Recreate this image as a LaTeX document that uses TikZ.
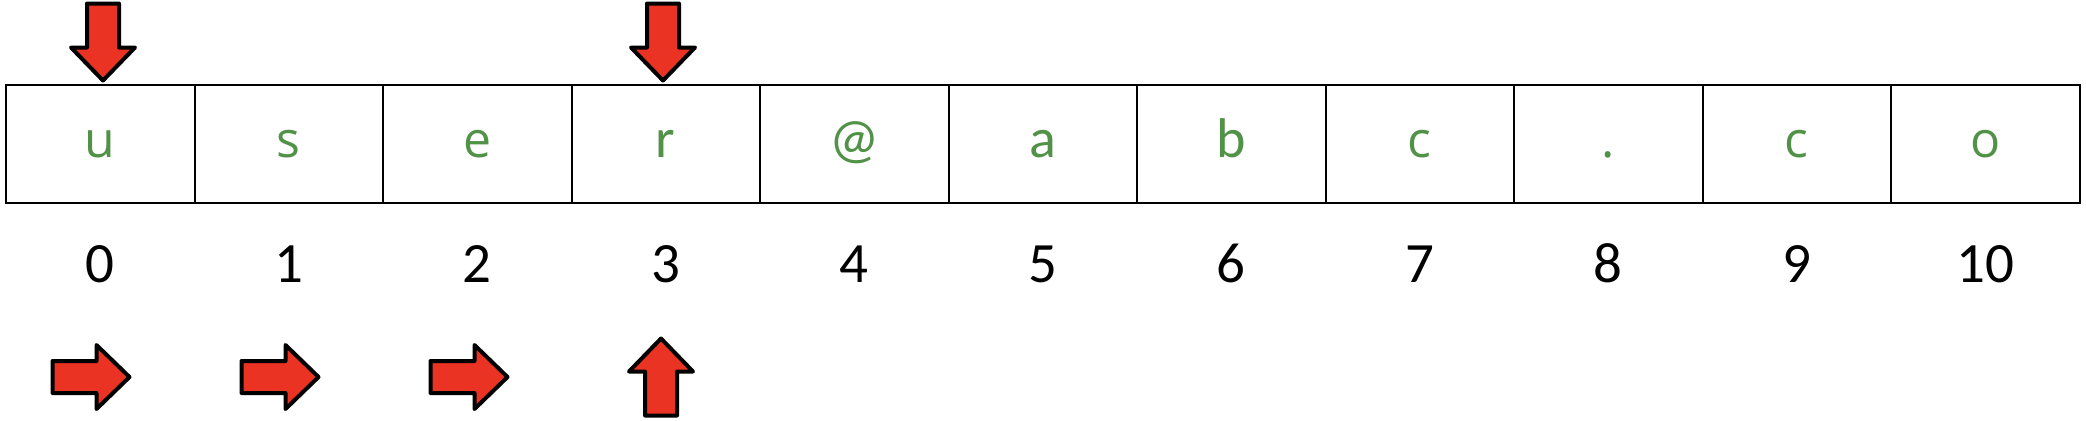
\documentclass[tikz,border=0pt]{standalone}
\usepackage{fontspec}
\setmainfont{Open Sans}
\newfontfamily\calfont{Carlito}
\definecolor{lettergreen}{RGB}{82,145,72}
\definecolor{arrowred}{RGB}{234,51,35}
\tikzset{
  cellbox/.style={draw=black, line width=1pt, minimum width=94.25pt, minimum height=59pt, inner sep=0pt, anchor=north west},
  lettero/.style={text=lettergreen, font=\fontsize{25}{30}\selectfont, anchor=base, inner sep=0pt},
  letterc/.style={text=lettergreen, font=\calfont\fontsize{28}{33}\selectfont, anchor=base, inner sep=0pt},
  digit/.style={text=black, font=\calfont\fontsize{28.5}{34}\selectfont, anchor=base, inner sep=0pt},
  arrowbody/.style={draw=black, fill=arrowred, line width=2pt, line join=round},
  blockarrow/.pic={\draw[arrowbody] (-38.5,-16) -- (5.5,-16) -- (5.5,-32) -- (38.5,0) -- (5.5,32) -- (5.5,16) -- (-38.5,16) -- cycle;}
}
\begin{document}
\begin{tikzpicture}[x=0.5pt,y=-0.5pt]
\useasboundingbox (0,0) rectangle (2086,420);
\foreach \i in {0,...,10}{
  \node[cellbox] (c\i) at ({5+188.5*\i},84) {};
}
\node[lettero] (l0) at (c0.center |- 0,157) {u};
\node[lettero] (l1) at (c1.center |- 0,157) {s};
\node[lettero] (l2) at (c2.center |- 0,157) {e};
\node[letterc] (l3) at (c3.center |- 0,157) {r};
\node[letterc] (l4) at (c4.center |- 0,157) {@};
\node[letterc] (l5) at (c5.center |- 0,157) {a};
\node[letterc] (l6) at (c6.center |- 0,157) {b};
\node[lettero] (l7) at (c7.center |- 0,157) {c};
\node[lettero] (l8) at (c8.center |- 0,157) {.};
\node[lettero] (l9) at (c9.center |- 0,157) {c};
\node[lettero] (l10) at (c10.center |- 0,157) {o};
\foreach \i in {0,...,10}{
  \node[digit] (d\i) at (c\i.center |- 0,282) {\i};
}
\pic[rotate=-90] at (103,42) {blockarrow};
\pic[rotate=-90] at (663,42) {blockarrow};
\pic at (91,377) {blockarrow};
\pic at (280,377) {blockarrow};
\pic at (469,377) {blockarrow};
\pic[rotate=90] at (661,377) {blockarrow};
\end{tikzpicture}
\end{document}
